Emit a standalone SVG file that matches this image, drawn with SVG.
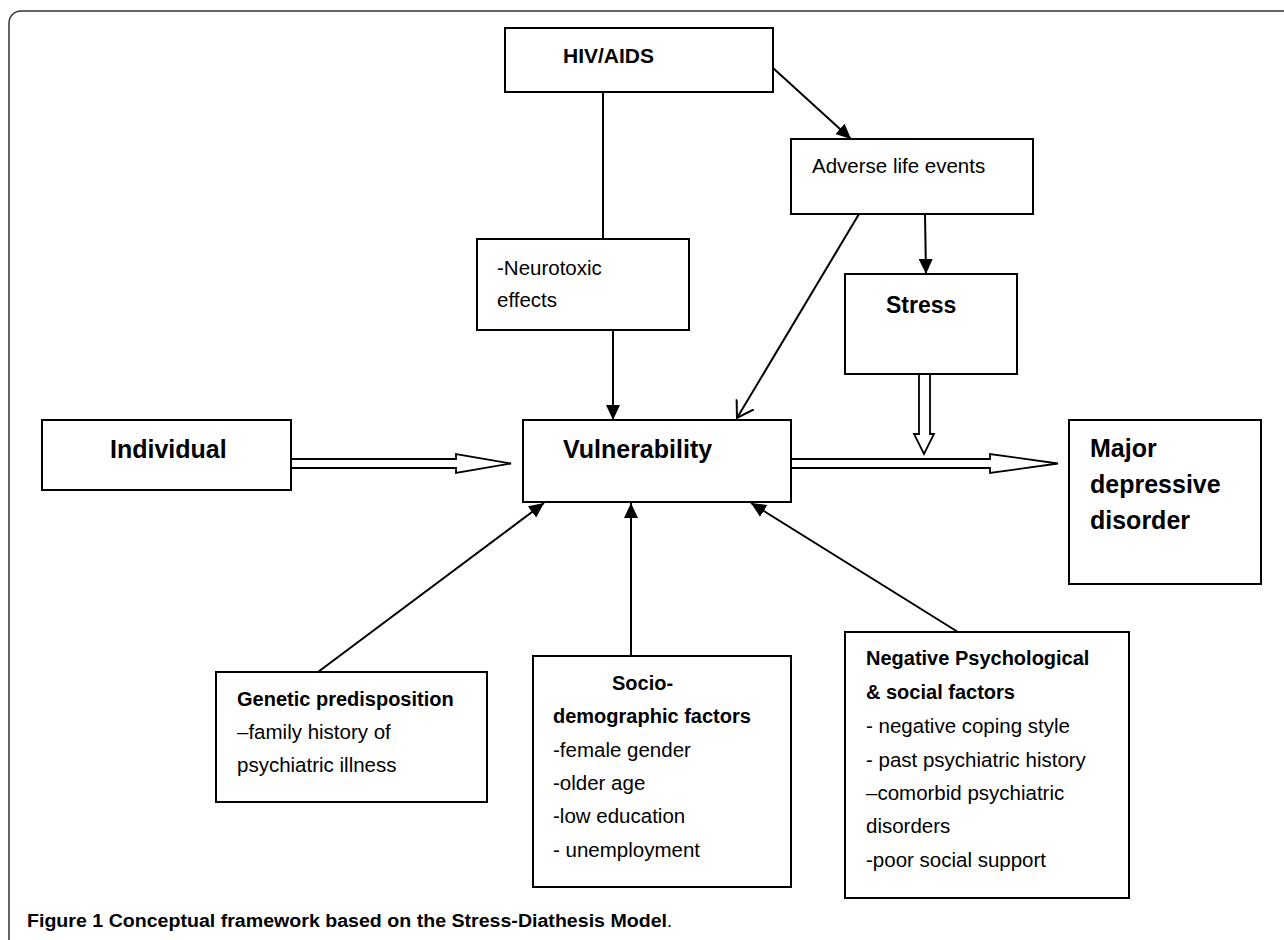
<svg xmlns="http://www.w3.org/2000/svg" width="1284" height="940" viewBox="0 0 1284 940">
<style>
.box{fill:#fff;stroke:#000;stroke-width:2}
.ln{fill:none;stroke:#000;stroke-width:2}
.hol{fill:#fff;stroke:#000;stroke-width:1.8;stroke-linejoin:miter}
text{font-family:"Liberation Sans",Arial,sans-serif;fill:#000}
.b{font-weight:bold}
.t{font-size:20.5px}
.h{font-size:20px;font-weight:bold}
.big{font-size:25px;font-weight:bold}
</style>
<defs>
<marker id="fa" markerUnits="userSpaceOnUse" markerWidth="16" markerHeight="14" refX="15" refY="7" orient="auto">
<path d="M0,0 L15,7 L0,14 Z" fill="#000"/>
</marker>
<marker id="oa" markerUnits="userSpaceOnUse" markerWidth="18" markerHeight="22" refX="16" refY="11" orient="auto">
<path d="M0,1 L16,11 L0,21" fill="none" stroke="#000" stroke-width="2"/>
</marker>
</defs>
<rect width="1284" height="940" fill="#fff"/>
<path d="M9,945 V23 A12,12 0 0 1 21,11 H1290" fill="none" stroke="#333" stroke-width="1.5"/>

<g id="connectors">
<line class="ln" x1="603" y1="92" x2="603" y2="239"/>
<line class="ln" x1="773" y1="68" x2="851" y2="139" marker-end="url(#fa)"/>
<line class="ln" x1="613" y1="330" x2="613" y2="420" marker-end="url(#fa)"/>
<line class="ln" x1="925" y1="214" x2="926" y2="274" marker-end="url(#fa)"/>
<line class="ln" x1="859" y1="214" x2="737" y2="418" marker-end="url(#oa)"/>
<line class="ln" x1="318" y1="672" x2="544" y2="503" marker-end="url(#fa)"/>
<line class="ln" x1="631" y1="656" x2="631" y2="503" marker-end="url(#fa)"/>
<line class="ln" x1="958" y1="632" x2="751" y2="503" marker-end="url(#fa)"/>
<polygon class="hol" points="291,459 456,459 456,454 511,463.5 456,473 456,468 291,468"/>
<polygon class="hol" points="791,459 990,459 990,454 1058,463.5 990,473 990,468 791,468"/>
<polygon class="hol" points="919,374 919,434 914,434 924,454 934,434 930,434 930,374"/>
</g>

<g id="hiv">
<rect class="box" x="505" y="28" width="268" height="64"/>
<text class="b" x="563" y="63" font-size="21">HIV/AIDS</text>
</g>
<g id="adverse">
<rect class="box" x="791" y="139" width="242" height="75"/>
<text class="t" x="812" y="173">Adverse life events</text>
</g>
<g id="neurotoxic">
<rect class="box" x="477" y="239" width="212" height="91"/>
<text class="t" x="497" y="275">-Neurotoxic</text>
<text class="t" x="497" y="307">effects</text>
</g>
<g id="stress">
<rect class="box" x="845" y="274" width="172" height="100"/>
<text class="b" x="886" y="313" font-size="23">Stress</text>
</g>
<g id="individual">
<rect class="box" x="42" y="420" width="249" height="70"/>
<text class="big" x="110" y="458">Individual</text>
</g>
<g id="vulnerability">
<rect class="box" x="523" y="420" width="268" height="82"/>
<text class="big" x="563" y="458">Vulnerability</text>
</g>
<g id="mdd">
<rect class="box" x="1069" y="420" width="192" height="164"/>
<text class="big" x="1090" y="457">Major</text>
<text class="big" x="1090" y="493">depressive</text>
<text class="big" x="1090" y="529">disorder</text>
</g>
<g id="genetic">
<rect class="box" x="216" y="672" width="271" height="130"/>
<text class="h" x="237" y="706">Genetic predisposition</text>
<text class="t" x="237" y="739">–family history of</text>
<text class="t" x="237" y="772">psychiatric illness</text>
</g>
<g id="socio">
<rect class="box" x="533" y="656" width="258" height="231"/>
<text class="h" x="612" y="690">Socio-</text>
<text class="h" x="553" y="723">demographic factors</text>
<text class="t" x="553" y="757">-female gender</text>
<text class="t" x="553" y="790">-older age</text>
<text class="t" x="553" y="823">-low education</text>
<text class="t" x="553" y="857">- unemployment</text>
</g>
<g id="psych">
<rect class="box" x="845" y="632" width="284" height="266"/>
<text class="h" x="866" y="665">Negative Psychological</text>
<text class="h" x="866" y="699">&amp; social factors</text>
<text class="t" x="866" y="733">- negative coping style</text>
<text class="t" x="866" y="767">- past psychiatric history</text>
<text class="t" x="866" y="800">–comorbid psychiatric</text>
<text class="t" x="866" y="833">disorders</text>
<text class="t" x="866" y="867">-poor social support</text>
</g>
<text x="27" y="927" font-size="18" fill="#231f20"><tspan font-weight="bold" textLength="640" lengthAdjust="spacingAndGlyphs">Figure 1 Conceptual framework based on the Stress-Diathesis Model</tspan><tspan>.</tspan></text>
</svg>
